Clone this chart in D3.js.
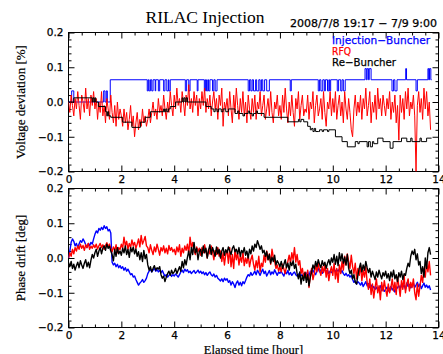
<!DOCTYPE html>
<html><head><meta charset="utf-8">
<script src="https://cdn.jsdelivr.net/npm/d3@7"></script>
<style>
html,body{margin:0;padding:0;background:#fff;}
svg{display:block;}
</style></head><body>
<svg id="chart" width="443" height="354"></svg>
<script>
// Logged signals are sampled every 0.05 h from the start of the run.
const sampleStep = 0.05;

// RFQ voltage deviation [%]
const voltRFQ = [
  0.00,-0.03,0.02,-0.01,-0.04,0.01,-0.02,0.03,-0.01,-0.05,0.02,0.00,-0.03,0.04,-0.02,0.01,-0.04,0.02,-0.01,0.03,
  -0.02,0.01,-0.05,0.00,-0.03,0.03,-0.04,-0.01,-0.06,0.01,-0.02,-0.05,0.02,-0.03,-0.06,-0.01,-0.07,0.00,-0.05,-0.02,
  -0.04,-0.07,-0.02,-0.06,-0.03,-0.08,-0.05,-0.01,-0.07,-0.04,-0.10,-0.06,-0.03,-0.08,-0.05,-0.07,-0.02,-0.06,-0.04,-0.07,
  -0.05,-0.02,-0.06,-0.03,0.00,-0.04,-0.02,-0.05,0.01,-0.03,-0.01,-0.04,0.02,-0.02,-0.05,0.00,-0.03,0.03,-0.01,-0.04,
  0.02,-0.02,0.04,-0.01,0.01,-0.03,0.03,0.00,-0.04,0.02,-0.01,0.05,-0.02,0.01,-0.03,0.03,-0.01,0.02,-0.04,0.01,
  -0.02,0.03,-0.01,0.04,-0.03,0.01,-0.02,0.02,-0.04,0.00,0.03,-0.02,0.01,-0.05,0.02,-0.01,0.04,-0.07,0.00,-0.02,
  0.01,-0.04,0.03,-0.02,-0.06,0.02,-0.03,0.04,-0.01,-0.05,0.01,-0.03,0.03,-0.04,0.00,-0.06,0.02,-0.02,-0.05,0.01,
  -0.03,0.02,-0.05,0.00,-0.02,0.03,-0.04,-0.01,0.02,-0.05,-0.02,0.01,-0.04,0.03,-0.03,-0.06,0.00,-0.02,0.02,-0.04,
  -0.01,-0.05,0.02,-0.03,0.04,-0.02,-0.06,0.00,-0.04,0.02,-0.03,-0.07,0.01,-0.02,0.03,-0.05,-0.01,0.02,-0.04,-0.02,
  -0.03,0.02,-0.05,0.00,-0.02,0.03,-0.06,-0.01,0.02,-0.04,-0.02,0.01,-0.05,0.03,-0.03,-0.07,0.00,-0.02,0.03,-0.04,
  0.01,-0.03,0.03,-0.05,-0.01,0.02,-0.04,0.00,-0.06,0.03,-0.02,-0.05,0.01,-0.03,-0.08,-0.10,-0.02,0.02,-0.04,0.00,
  -0.03,0.02,-0.05,0.01,-0.02,0.04,-0.04,-0.01,0.03,-0.06,0.00,-0.03,0.02,-0.05,0.04,-0.02,0.01,-0.04,0.02,-0.01,
  -0.04,0.01,-0.02,0.03,-0.05,0.00,-0.03,0.02,-0.06,-0.01,-0.11,0.02,-0.03,0.01,-0.05,0.03,-0.02,0.04,-0.04,0.00,
  -0.02,0.02,-0.04,-0.20,-0.01,0.03,-0.03,0.01,-0.05,0.04,-0.02,0.03,-0.04,0.00,-0.08
];

// Step-recorded voltage readouts: time of change [hour] and new value [%]
const voltInjT = [0,0.12,0.2,1.33,1.38,1.43,1.47,1.58,
  2.98,3.02,3.05,3.1,3.15,3.2,3.28,3.3,3.4,3.45,3.6,3.65,3.72,3.78,3.8,3.85,
  4.42,4.47,4.55,4.6,4.87,4.9,5.14,5.18,5.22,5.27,5.3,5.35,5.45,5.5,5.55,5.62,
  6.8,6.85,6.9,6.95,7.0,7.08,7.12,7.2,7.25,7.3,7.35,7.42,7.5,7.6,8.39,8.43,
  9.45,9.5,9.55,9.62,9.68,9.72,9.8,9.85,9.88,9.92,10.17,10.22,10.3,10.35,10.4,10.47,
  11.22,11.27,11.3,11.35,11.38,11.45,12.24,12.3,12.35,12.43,12.76,12.79,13.15,13.2,
  13.6,13.63,13.66,13.71];
const voltInjV = [0.0,0.032,0.0,0.032,0.0,0.032,0.0,0.064,
  0.032,0.064,0.032,0.064,0.032,0.064,0.032,0.064,0.032,0.064,0.032,0.064,0.032,0.064,0.032,0.064,
  0.032,0.064,0.032,0.064,0.032,0.064,0.032,0.064,0.032,0.064,0.032,0.064,0.032,0.064,0.032,0.064,
  0.032,0.064,0.032,0.064,0.032,0.064,0.032,0.064,0.032,0.064,0.032,0.064,0.032,0.064,0.032,0.064,
  0.032,0.064,0.032,0.064,0.032,0.064,0.032,0.064,0.032,0.064,0.032,0.064,0.032,0.064,0.032,0.064,
  0.096,0.064,0.096,0.064,0.096,0.064,0.032,0.064,0.032,0.064,0.096,0.064,0.032,0.064,
  0.096,0.064,0.096,0.064];

const voltReT = [0,0.2,0.9,0.93,0.97,1.0,1.03,1.13,1.4,1.45,1.48,1.52,1.6,2.05,2.4,2.72,2.9,3.1,
  3.6,3.63,3.68,3.72,3.78,3.85,4.05,4.3,4.33,4.37,4.41,4.45,4.5,
  5.2,5.4,5.5,5.55,5.62,5.68,5.78,5.85,5.95,6.05,6.3,6.4,6.45,6.6,6.66,6.8,6.85,6.95,7.0,7.1,7.15,
  7.4,8.3,8.7,8.75,8.8,8.9,9.05,9.15,9.2,9.25,9.3,9.35,9.45,9.5,9.6,9.65,9.8,9.85,
  10.1,10.35,10.55,10.85,10.95,11.0,11.3,11.35,11.42,11.5,11.55,11.7,11.9,12.17,12.28,12.6,12.8,
  12.95,13.0,13.3,13.35,13.55,13.6];
const voltReV = [0.0,0.012,0.0,0.012,0.0,0.012,0.0,-0.013,-0.028,-0.04,-0.028,-0.04,-0.044,-0.058,-0.073,-0.058,-0.044,-0.028,
  -0.02,-0.028,-0.02,-0.028,-0.02,-0.013,0.0,0.012,0.0,0.012,0.0,0.012,0.0,
  -0.013,-0.02,-0.028,-0.02,-0.028,-0.02,-0.028,-0.02,-0.028,-0.02,-0.033,-0.026,-0.033,-0.04,-0.033,-0.026,-0.033,-0.04,-0.033,-0.026,-0.033,
  -0.044,-0.057,-0.05,-0.057,-0.05,-0.057,-0.07,-0.08,-0.076,-0.085,-0.076,-0.085,-0.085,-0.08,-0.085,-0.08,-0.085,-0.08,
  -0.1,-0.114,-0.129,-0.114,-0.12,-0.114,-0.129,-0.114,-0.129,-0.114,-0.12,-0.104,-0.114,-0.133,-0.114,-0.104,-0.114,
  -0.104,-0.114,-0.104,-0.114,-0.104,-0.104];
const endTime = 13.74;

// Phase drift [deg]
const phaseInj = [
  0.000,0.020,0.045,0.055,0.048,0.035,0.042,0.030,0.040,0.050,0.045,0.055,0.048,0.038,0.030,0.042,0.035,0.045,0.040,0.055,
  0.068,0.078,0.072,0.085,0.080,0.088,0.082,0.093,0.085,0.090,0.078,0.082,0.072,-0.012,-0.020,-0.015,-0.025,-0.018,-0.028,-0.022,
  -0.030,-0.025,-0.035,-0.028,-0.038,-0.032,-0.040,-0.048,-0.045,-0.055,-0.052,-0.062,-0.070,-0.078,-0.072,-0.068,-0.062,-0.070,-0.065,-0.058,
  -0.045,-0.038,-0.032,-0.040,-0.035,-0.030,-0.038,-0.033,-0.040,-0.035,-0.042,-0.036,-0.045,-0.052,-0.048,-0.055,-0.050,-0.045,-0.053,-0.048,
  -0.052,-0.046,-0.050,-0.055,-0.048,-0.040,-0.035,-0.042,-0.032,-0.038,-0.034,-0.042,-0.038,-0.045,-0.040,-0.036,-0.044,-0.040,-0.035,-0.043,
  -0.038,-0.045,-0.040,-0.048,-0.042,-0.050,-0.044,-0.040,-0.048,-0.052,-0.046,-0.055,-0.050,-0.058,-0.062,-0.066,-0.060,-0.068,-0.058,-0.064,
  -0.060,-0.070,-0.065,-0.078,-0.068,-0.075,-0.085,-0.072,-0.066,-0.078,-0.070,-0.080,-0.068,-0.074,-0.065,-0.055,-0.048,-0.052,-0.042,-0.050,
  -0.045,-0.038,-0.048,-0.035,-0.042,-0.050,-0.040,-0.032,-0.045,-0.038,-0.052,-0.044,-0.036,-0.048,-0.040,-0.046,-0.034,-0.042,-0.050,-0.040,
  -0.044,-0.038,-0.046,-0.052,-0.040,-0.045,-0.036,-0.048,-0.042,-0.050,-0.044,-0.040,-0.048,-0.052,-0.046,-0.054,-0.048,-0.052,-0.045,-0.050,
  -0.046,-0.040,-0.052,-0.038,-0.044,-0.035,-0.042,-0.048,-0.036,-0.030,-0.040,-0.034,-0.044,-0.038,-0.032,-0.040,-0.035,-0.045,-0.038,-0.042,
  -0.036,-0.030,-0.040,-0.034,-0.038,-0.032,-0.042,-0.036,-0.045,-0.050,-0.044,-0.052,-0.048,-0.055,-0.050,-0.062,-0.070,-0.066,-0.075,-0.068,
  -0.072,-0.078,-0.070,-0.082,-0.075,-0.068,-0.080,-0.074,-0.085,-0.078,-0.088,-0.082,-0.090,-0.084,-0.092,-0.086,-0.080,-0.094,-0.088,-0.096,
  -0.090,-0.084,-0.095,-0.088,-0.082,-0.092,-0.086,-0.098,-0.090,-0.085,-0.080,-0.088,-0.076,-0.084,-0.078,-0.090,-0.072,-0.082,-0.076,-0.086,
  -0.080,-0.072,-0.085,-0.078,-0.070,-0.082,-0.075,-0.088,-0.080,-0.072,-0.084,-0.078,-0.086,-0.080,-0.092
];
const phaseRFQ = [
  0.000,0.015,0.005,0.025,0.012,0.030,0.020,0.035,0.025,0.040,0.028,0.036,0.022,0.038,0.030,0.042,0.025,0.034,0.028,0.038,
  0.030,0.040,0.026,0.035,0.042,0.030,0.038,0.025,0.036,0.044,0.032,0.040,0.028,0.018,0.032,0.022,0.038,0.015,0.030,0.024,
  0.040,0.028,0.060,0.035,0.048,0.025,0.042,0.030,0.052,0.036,0.045,0.028,0.040,0.055,0.032,0.065,0.040,0.050,0.062,0.035,
  0.030,0.015,0.038,0.022,0.010,0.032,0.018,0.040,0.025,0.008,0.030,0.020,0.035,0.015,0.028,0.012,0.036,0.022,0.030,0.018,
  0.025,0.010,0.032,0.018,0.038,0.005,0.028,0.015,0.035,0.022,0.040,0.012,0.060,0.030,0.045,0.020,0.010,0.032,0.018,0.028,
  0.008,0.030,0.015,0.038,0.020,0.000,0.025,0.012,0.035,0.018,-0.005,0.022,0.010,0.030,0.005,0.020,-0.010,0.015,-0.020,0.010,
  0.022,-0.015,0.030,-0.025,0.010,-0.030,0.025,-0.005,0.015,-0.020,0.005,-0.012,0.018,-0.022,0.000,-0.015,0.010,-0.025,-0.005,0.008,
  -0.018,-0.035,-0.008,-0.028,0.005,-0.040,-0.015,-0.025,0.008,-0.012,0.020,-0.005,0.012,-0.018,0.025,0.002,-0.010,-0.030,-0.020,-0.038,
  -0.025,-0.040,-0.018,-0.032,-0.045,-0.022,-0.010,0.008,-0.015,0.015,-0.005,0.030,-0.012,0.010,-0.020,-0.008,-0.045,-0.030,-0.058,-0.040,
  -0.060,-0.035,-0.085,-0.050,-0.030,-0.062,-0.045,-0.020,-0.040,-0.015,-0.035,-0.050,-0.025,-0.042,-0.020,-0.055,-0.030,-0.065,-0.040,-0.025,
  -0.050,-0.015,-0.060,-0.030,-0.070,-0.020,-0.045,-0.010,-0.035,0.005,-0.020,0.012,-0.010,-0.030,0.008,-0.025,-0.045,-0.015,-0.060,-0.030,
  -0.050,-0.020,-0.065,-0.035,-0.055,-0.025,-0.070,-0.090,-0.060,-0.105,-0.075,-0.115,-0.085,-0.060,-0.100,-0.080,-0.120,-0.070,-0.095,-0.065,
  -0.090,-0.110,-0.075,-0.100,-0.085,-0.060,-0.095,-0.070,-0.105,-0.055,-0.080,-0.110,-0.065,-0.090,-0.050,-0.100,-0.075,-0.060,-0.095,-0.070,
  -0.085,-0.060,-0.100,-0.120,-0.075,-0.110,-0.080,-0.050,-0.070,-0.030,-0.055,-0.015,-0.040,-0.010,-0.050
];
const phaseRe = [
  -0.013,-0.025,-0.010,-0.030,-0.018,-0.035,-0.022,-0.012,-0.028,-0.008,-0.020,-0.030,-0.015,-0.005,-0.025,-0.012,-0.028,-0.006,0.010,0.000,
  0.015,0.025,0.005,0.020,0.030,0.012,0.028,0.035,0.022,0.040,0.028,0.034,0.020,0.010,-0.008,0.025,0.005,0.030,0.012,0.020,
  0.008,0.028,0.015,0.035,0.010,0.025,0.002,0.030,0.018,0.032,0.012,0.026,0.005,0.018,-0.005,0.015,-0.010,0.022,-0.002,0.010,
  -0.020,-0.035,-0.025,-0.040,-0.030,-0.022,-0.035,-0.028,-0.032,-0.025,-0.048,-0.058,-0.052,-0.068,-0.055,-0.045,-0.038,-0.050,-0.035,-0.045,
  -0.040,-0.030,-0.045,-0.035,-0.025,-0.038,-0.010,-0.028,-0.005,-0.020,0.002,0.020,-0.005,0.030,0.010,0.045,0.015,0.028,-0.005,0.018,
  0.025,0.005,0.035,0.015,0.028,0.000,0.022,0.038,0.010,0.030,0.018,0.005,0.032,0.012,0.025,0.000,0.020,0.030,0.008,0.024,
  0.015,0.032,0.020,0.010,0.028,0.035,0.018,0.025,0.012,0.030,0.005,0.022,0.015,0.030,0.008,0.020,0.000,0.025,0.012,0.035,
  0.020,0.040,0.030,0.050,0.038,0.025,0.035,0.015,0.022,0.005,0.018,-0.005,0.010,-0.015,0.002,-0.010,0.008,-0.020,-0.008,-0.015,
  -0.025,-0.010,-0.030,-0.018,-0.005,-0.028,-0.015,-0.035,-0.012,-0.022,-0.008,-0.030,-0.018,-0.045,-0.060,-0.040,-0.075,-0.050,-0.065,-0.042,
  -0.070,-0.048,-0.080,-0.055,-0.040,-0.020,-0.032,-0.010,-0.025,-0.005,-0.018,-0.028,-0.008,-0.022,-0.012,-0.030,-0.015,-0.005,-0.020,0.000,
  -0.012,0.010,-0.018,0.005,-0.022,0.015,-0.008,0.012,-0.015,0.002,-0.020,0.010,-0.030,-0.045,-0.035,-0.060,-0.048,-0.070,-0.075,-0.050,
  -0.030,-0.015,-0.040,-0.020,-0.035,-0.010,-0.028,-0.042,-0.030,-0.055,-0.038,-0.050,-0.062,-0.040,-0.055,-0.035,-0.048,-0.060,-0.042,-0.052,
  -0.038,-0.058,-0.045,-0.065,-0.040,-0.055,-0.035,-0.060,-0.048,-0.068,-0.042,-0.055,-0.038,-0.062,-0.045,-0.050,-0.030,-0.015,-0.025,0.005,
  0.020,0.010,0.025,-0.005,0.012,-0.020,-0.010,-0.045,-0.025,-0.055,0.000,-0.030,0.015,0.030,0.010
];

const xTicks = [0, 2, 4, 6, 8, 10, 12, 14];
const yTicks = [-0.2, -0.1, 0.0, 0.1, 0.2];
const seriesNames = ["Injection−Buncher", "RFQ", "Re−Buncher"];
const seriesColors = ["#0000ff", "#ff0000", "#000000"];
const titleText = "RILAC Injection";
const periodText = "2008/7/8 19:17 − 7/9 9:00";

const svg = d3.select("#chart");
const plotLeft = 68.5, plotRight = 438.5;
const panels = [
  {top: 32.5, bottom: 171.5, label: "Voltage deviation [%]"},
  {top: 188.5, bottom: 327.5, label: "Phase drift [deg]"}
];

const x = d3.scaleLinear().domain([0, 14]).range([plotLeft, plotRight]);
const xMinor = d3.range(0, 14.001, 0.5).filter(v => Math.abs(v / 2 - Math.round(v / 2)) > 1e-6);
const yMinor = d3.range(-10, 11).map(k => k * 0.02).filter(v => Math.abs(v * 10 - Math.round(v * 10)) > 1e-6);

const sampled = vals => vals.map((v, i) => [i * sampleStep, v]);
const stepped = (ts, vs) => ts.map((t, i) => [t, vs[i]]).concat([[endTime, vs[vs.length - 1]]]);

const tickFont = "DejaVu Sans";

panels.forEach((p, pi) => {
  const y = d3.scaleLinear().domain([-0.2, 0.2]).range([p.bottom, p.top]);
  p.y = y;
  const g = svg.append("g");

  const clipId = "clip" + pi;
  svg.append("clipPath").attr("id", clipId).append("rect")
    .attr("x", plotLeft).attr("y", p.top).attr("width", plotRight - plotLeft).attr("height", p.bottom - p.top);
  p.plot = svg.append("g").attr("clip-path", `url(#${clipId})`);

  const styleAxis = sel => {
    sel.select(".domain").remove();
    sel.selectAll("line").attr("stroke", "#000").attr("stroke-width", 1);
    sel.selectAll("text").attr("font-family", tickFont).attr("font-size", 10.5)
      .attr("fill", "#000").attr("stroke", "#000").attr("stroke-width", 0.25);
  };

  // bottom axis with labels
  g.append("g").attr("transform", `translate(0,${p.bottom})`)
    .call(d3.axisBottom(x).tickValues(xTicks).tickSize(-6).tickSizeOuter(0).tickPadding(4).tickFormat(d3.format("d")))
    .call(styleAxis);
  g.append("g").attr("transform", `translate(0,${p.bottom})`)
    .call(d3.axisBottom(x).tickValues(xMinor).tickSize(-3).tickSizeOuter(0).tickFormat(""))
    .call(styleAxis);
  // top axis, ticks only
  g.append("g").attr("transform", `translate(0,${p.top})`)
    .call(d3.axisTop(x).tickValues(xTicks).tickSize(-6).tickSizeOuter(0).tickFormat(""))
    .call(styleAxis);
  g.append("g").attr("transform", `translate(0,${p.top})`)
    .call(d3.axisTop(x).tickValues(xMinor).tickSize(-3).tickSizeOuter(0).tickFormat(""))
    .call(styleAxis);
  // left axis with labels
  g.append("g").attr("transform", `translate(${plotLeft},0)`)
    .call(d3.axisLeft(y).tickValues(yTicks).tickSize(-6).tickSizeOuter(0).tickPadding(5).tickFormat(d3.format(".1f")))
    .call(styleAxis);
  g.append("g").attr("transform", `translate(${plotLeft},0)`)
    .call(d3.axisLeft(y).tickValues(yMinor).tickSize(-3).tickSizeOuter(0).tickFormat(""))
    .call(styleAxis);
  // right axis, ticks only
  g.append("g").attr("transform", `translate(${plotRight},0)`)
    .call(d3.axisRight(y).tickValues(yTicks).tickSize(-6).tickSizeOuter(0).tickFormat(""))
    .call(styleAxis);
  g.append("g").attr("transform", `translate(${plotRight},0)`)
    .call(d3.axisRight(y).tickValues(yMinor).tickSize(-3).tickSizeOuter(0).tickFormat(""))
    .call(styleAxis);

  g.append("rect").attr("x", plotLeft).attr("y", p.top)
    .attr("width", plotRight - plotLeft).attr("height", p.bottom - p.top)
    .attr("fill", "none").attr("stroke", "#000").attr("stroke-width", 1);

  // y-axis title
  svg.append("text")
    .attr("transform", `translate(25,${(p.top + p.bottom) / 2}) rotate(-90)`)
    .attr("text-anchor", "middle")
    .attr("font-family", "Liberation Serif").attr("font-size", 13)
    .attr("stroke", "#000").attr("stroke-width", 0.2)
    .text(p.label);
});

const lineOf = (y, curve) => d3.line().x(d => x(d[0])).y(d => y(d[1])).curve(curve);

// upper panel: voltage deviation
const pv = panels[0];
const voltSeries = [stepped(voltInjT, voltInjV), sampled(voltRFQ), stepped(voltReT, voltReV)];
const voltCurves = [d3.curveStepAfter, d3.curveLinear, d3.curveStepAfter];
voltSeries.forEach((s, i) => {
  pv.plot.append("path").datum(s)
    .attr("d", lineOf(pv.y, voltCurves[i]))
    .attr("fill", "none").attr("stroke", seriesColors[i]).attr("stroke-width", 1);
});

// lower panel: phase drift
const pp = panels[1];
[phaseInj, phaseRFQ, phaseRe].forEach((s, i) => {
  pp.plot.append("path").datum(sampled(s))
    .attr("d", lineOf(pp.y, d3.curveLinear))
    .attr("fill", "none").attr("stroke", seriesColors[i]).attr("stroke-width", 1.4)
    .attr("stroke-linejoin", "round");
});

// legend
const legendWidths = [98, 19, 64];
seriesNames.forEach((name, i) => {
  svg.append("text")
    .attr("x", 332).attr("y", 44 + i * 11.2)
    .attr("font-family", "DejaVu Sans").attr("font-size", 10.5)
    .attr("fill", seriesColors[i]).attr("stroke", seriesColors[i]).attr("stroke-width", 0.25)
    .attr("textLength", legendWidths[i]).attr("lengthAdjust", "spacingAndGlyphs")
    .text(name);
});

// titles
svg.append("text").attr("x", 205).attr("y", 23).attr("text-anchor", "middle")
  .attr("font-family", "Liberation Serif").attr("font-size", 17.5)
  .text(titleText);
svg.append("text").attr("x", 290).attr("y", 27)
  .attr("font-family", "DejaVu Sans").attr("font-size", 10.5)
  .attr("stroke", "#000").attr("stroke-width", 0.25)
  .attr("textLength", 147).attr("lengthAdjust", "spacingAndGlyphs")
  .text(periodText);
svg.append("text").attr("x", (plotLeft + plotRight) / 2).attr("y", 353.5).attr("text-anchor", "middle")
  .attr("font-family", "Liberation Serif").attr("font-size", 12.5)
  .attr("stroke", "#000").attr("stroke-width", 0.2)
  .text("Elapsed time [hour]");
</script>
</body></html>
